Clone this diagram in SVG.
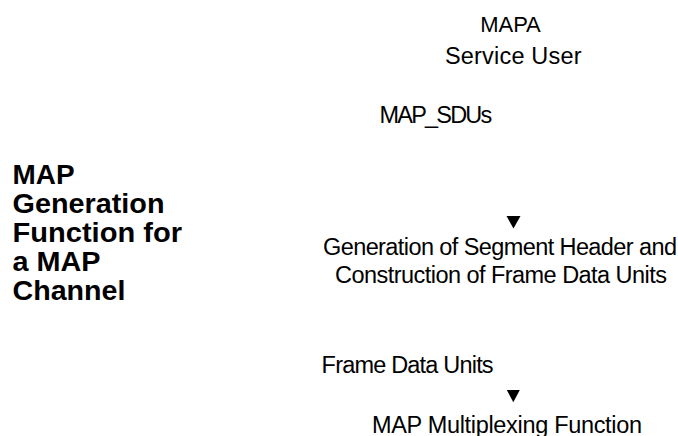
<svg xmlns="http://www.w3.org/2000/svg" width="678" height="436" viewBox="0 0 678 436">
  <style>
    text { font-family: "Liberation Sans", Arial, sans-serif; fill: #000; }
    .t { font-size: 23.5px; }
    .title { font-size: 27px; font-weight: bold; }
    .arrow { fill: #000; stroke: none; }
  </style>
  <rect width="678" height="436" fill="#fff"/>
  <g id="title">
    <text class="title" x="12.5" y="183.5" textLength="62" lengthAdjust="spacingAndGlyphs">MAP</text>
    <text class="title" x="12.5" y="212.5" textLength="152" lengthAdjust="spacingAndGlyphs">Generation</text>
    <text class="title" x="12.5" y="241.5" textLength="169.5" lengthAdjust="spacingAndGlyphs">Function for</text>
    <text class="title" x="12.5" y="270.5" textLength="88" lengthAdjust="spacingAndGlyphs">a MAP</text>
    <text class="title" x="12.5" y="299.5" textLength="113" lengthAdjust="spacingAndGlyphs">Channel</text>
  </g>
  <g id="service-user">
    <text x="480.3" y="32" style="font-size:22px" textLength="60.5" lengthAdjust="spacing">MAPA</text>
    <text class="t" x="445" y="63.5" textLength="136.5" lengthAdjust="spacing">Service User</text>
  </g>
  <g id="generation">
    <text class="t" x="323" y="255.3" textLength="354" lengthAdjust="spacing">Generation of Segment Header and</text>
    <text class="t" x="335" y="282.5" textLength="332" lengthAdjust="spacing">Construction of Frame Data Units</text>
  </g>
  <g id="multiplexing">
    <text class="t" x="372" y="433" textLength="270" lengthAdjust="spacing">MAP Multiplexing Function</text>
  </g>
  <g id="connectors">
    <text class="t" x="379.5" y="123.3" textLength="112.8" lengthAdjust="spacing">MAP_SDUs</text>
    <polygon class="arrow" points="506.5,216 520.5,216 513.5,228.5"/>
    <text class="t" x="321.6" y="372.8" textLength="172" lengthAdjust="spacing">Frame Data Units</text>
    <polygon class="arrow" points="506.8,390 519.8,390 513.3,402.3"/>
  </g>
</svg>
